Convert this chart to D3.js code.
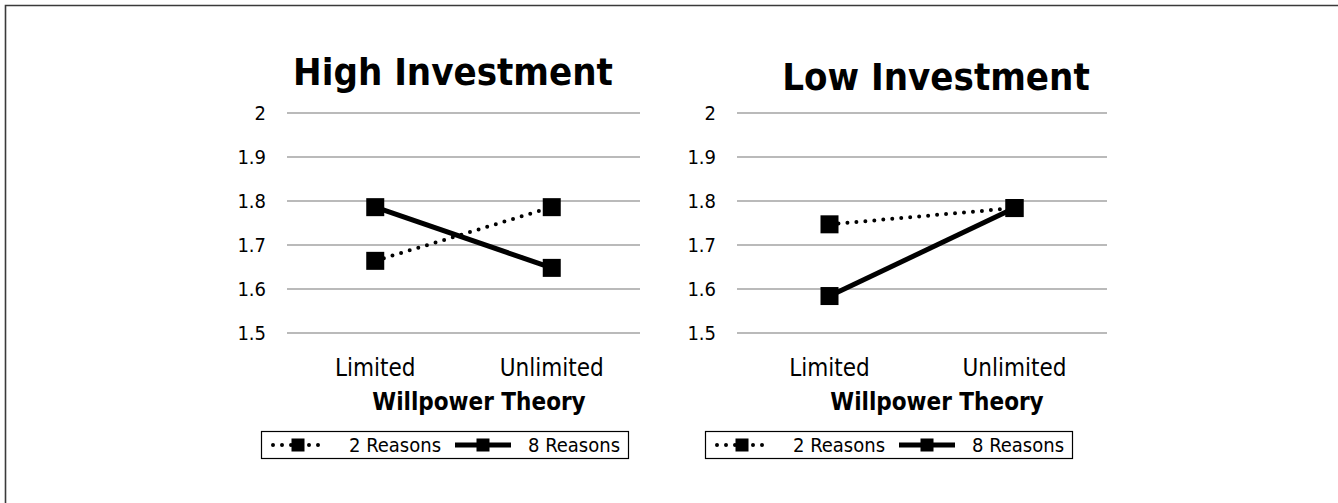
<!DOCTYPE html>
<html>
<head>
<meta charset="utf-8">
<script src="https://cdn.jsdelivr.net/npm/d3@7"></script>
<style>
  html, body { margin: 0; padding: 0; background: #fff; }
  svg { display: block; font-family: "DejaVu Sans Condensed", "DejaVu Sans", sans-serif; }
</style>
</head>
<body>
<svg id="chart" width="1338" height="503"></svg>
<script>
// data
const categories = ['Limited', 'Unlimited'];
const seriesNames = ['2 Reasons', '8 Reasons'];
const highTwo = [1.664, 1.786];
const highEight = [1.786, 1.648];
const lowTwo = [1.747, 1.784];
const lowEight = [1.584, 1.784];
const yTicks = [1.5, 1.6, 1.7, 1.8, 1.9, 2];
const panelTitles = ['High Investment', 'Low Investment'];
const xAxisTitle = 'Willpower Theory';

// layout of the two panels
const panels = [
  { title: panelTitles[0], series: [highTwo, highEight], x0: 287, x1: 640, titleX: 453, titleY: 85, axisX: 479, legendX: 261 },
  { title: panelTitles[1], series: [lowTwo, lowEight], x0: 737, x1: 1107, titleX: 936, titleY: 90, axisX: 937, legendX: 705 }
];

const svg = d3.select('#chart');

// outer frame (only top and left edges are visible)
svg.append('path')
  .attr('d', 'M5.5,503 V5.5 H1338')
  .attr('fill', 'none')
  .attr('stroke', '#3a3a3a')
  .attr('stroke-width', 1.6);

const y = d3.scaleLinear().domain([1.5, 2]).range([333, 113]);
const fmt = d3.format('~g');

function drawMarker(g, cx, cy, size) {
  g.append('rect')
    .attr('x', cx - size / 2).attr('y', cy - size / 2)
    .attr('width', size).attr('height', size)
    .attr('fill', '#000');
}

function styleLine(sel, i) {
  sel.attr('fill', 'none').attr('stroke', '#000');
  if (i === 0) {
    sel.attr('stroke-width', 4).attr('stroke-linecap', 'round').attr('stroke-dasharray', '0 9');
  } else {
    sel.attr('stroke-width', 5);
  }
}

panels.forEach(p => {
  const g = svg.append('g');
  const x = d3.scalePoint().domain(categories).range([p.x0, p.x1]).padding(0.5);

  // gridlines
  g.append('g').selectAll('line').data(yTicks).enter().append('line')
    .attr('x1', p.x0).attr('x2', p.x1)
    .attr('y1', d => y(d)).attr('y2', d => y(d))
    .attr('stroke', '#a3a3a3').attr('stroke-width', 1.5);

  // y tick labels
  g.append('g').selectAll('text').data(yTicks).enter().append('text')
    .attr('x', p.x0 - 21).attr('y', d => y(d))
    .attr('dy', '0.36em')
    .attr('text-anchor', 'end')
    .style('font-size', '20px')
    .text(d => fmt(d));

  // category labels
  g.append('g').selectAll('text').data(categories).enter().append('text')
    .attr('x', d => x(d)).attr('y', 376)
    .attr('text-anchor', 'middle')
    .style('font-size', '24px')
    .text(d => d);

  // axis title
  g.append('text')
    .attr('x', p.axisX).attr('y', 410)
    .attr('text-anchor', 'middle')
    .style('font-size', '24px').style('font-weight', 'bold')
    .text(xAxisTitle);

  // chart title
  g.append('text')
    .attr('x', p.titleX).attr('y', p.titleY)
    .attr('text-anchor', 'middle')
    .style('font-size', '38px').style('font-weight', 'bold')
    .text(p.title);

  // series lines + markers
  const line = d3.line().x((d, i) => x(categories[i])).y(d => y(d));
  p.series.forEach((vals, i) => {
    const s = g.append('g');
    s.append('path').datum(vals).attr('d', line).call(styleLine, i);
    vals.forEach((v, j) => drawMarker(s, x(categories[j]), y(v), 18));
  });

  // legend
  const lg = g.append('g').attr('transform', `translate(${p.legendX},431)`);
  lg.append('rect')
    .attr('x', 0.5).attr('y', 0.5).attr('width', 367).attr('height', 27)
    .attr('fill', '#fff').attr('stroke', '#000').attr('stroke-width', 1.2);
  const items = [
    { x0: 12, x1: 62, text: 88 },
    { x0: 194, x1: 250, text: 267 }
  ];
  items.forEach((it, i) => {
    lg.append('line')
      .attr('x1', it.x0).attr('x2', it.x1).attr('y1', 14).attr('y2', 14)
      .call(styleLine, i);
    drawMarker(lg, (it.x0 + it.x1) / 2, 14, 13);
    lg.append('text')
      .attr('x', it.text).attr('y', 21)
      .style('font-size', '20px')
      .text(seriesNames[i]);
  });
});
</script>
</body>
</html>
